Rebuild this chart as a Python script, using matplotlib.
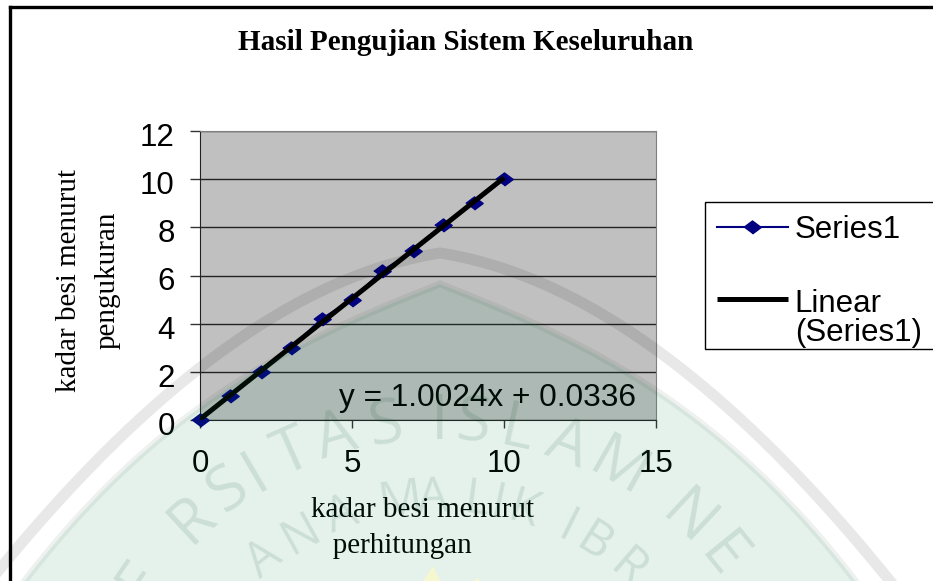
import numpy as np
import matplotlib
matplotlib.use('Agg')
import matplotlib.pyplot as plt
from matplotlib.patches import Polygon, Rectangle
from matplotlib.transforms import ScaledTranslation

W, H = 933, 581

# chart data
x_vals = [0, 1, 2, 3, 4, 5, 6, 7, 8, 9, 10]
y_vals = [0, 1, 2, 3, 4.2, 5, 6.2, 7, 8.1, 9, 10]
x_ticks = [0, 5, 10, 15]
y_ticks = [0, 2, 4, 6, 8, 10, 12]

title = 'Hasil Pengujian Sistem Keseluruhan'
xlabel = 'kadar besi menurut\n   perhitungan'
ylabel = 'kadar besi menurut\npengukuran'
equation = 'y = 1.0024x + 0.0336'

# watermark outlines, half width from centre against pixel height
outer_u = [0, 90, 160, 240, 280, 347, 437, 470]
outer_y = [253, 273, 312, 370, 402, 457, 565, 605]
inner_u = [0, 90, 223, 280, 313, 413, 440]
inner_y = [284, 318, 400, 437, 462, 580, 612]

# watermark letters: letter, degrees from the dome centre
row1 = ['E', 'R', 'S', 'I', 'T', 'A', 'S', 'I', 'S', 'L', 'A', 'M', 'N', 'E']
row1_deg = [-55.6, -43, -35.6, -30.5, -24, -16.6, -8.5, 0, 5.3, 12.3, 20.6, 29.5, 43, 51]
row2 = ['A', 'L', 'A', 'N', 'A', 'M', 'A', 'L', 'I', 'K', 'I', 'B', 'R']
row2_deg = [-64, -48, -38, -29, -20, -8, -1.4, 7.4, 11.7, 16.9, 26.4, 32.4, 40.9]

plt.rcParams['font.family'] = ['Liberation Sans', 'DejaVu Sans']

fig = plt.figure(figsize=(W / 100, H / 100), dpi=100, facecolor='white')
ax = fig.add_axes([200 / W, 1 - 420 / H, 456 / W, 289 / H])
ax.set_facecolor('#c0c0c0')

stretched_diamond = [(-1, 0), (0, 0.75), (1, 0), (0, -0.75)]
ax.plot(x_vals, y_vals, color='#000080', lw=1.5, marker=stretched_diamond, ms=12.5, mfc='#000080', mec='#000080',
        label='Series1', clip_on=False, zorder=3)
slope, intercept = np.polyfit(x_vals, y_vals, 1)
fit_x = np.array([x_vals[0], x_vals[-1]])
ax.plot(fit_x, slope * fit_x + intercept, color='black', lw=3.6, label='Linear\n(Series1)',
        solid_capstyle='butt', zorder=4)

ax.set_xlim(0, 15)
ax.set_ylim(0, 12)
ax.set_xticks(x_ticks)
ax.set_yticks(y_ticks)
ax.grid(axis='y', color='#222222', lw=1)
ax.set_axisbelow(True)
ax.tick_params(axis='both', labelsize=22.5, width=1, color='#333333', labelcolor='black')
ax.tick_params(axis='x', length=5.8, pad=15)
ax.tick_params(axis='y', length=7.2, pad=11)
for lab in ax.get_yticklabels():
    lab.set_transform(lab.get_transform() + ScaledTranslation(0, -2.5 / 72, fig.dpi_scale_trans))
for side in ['left', 'bottom']:
    ax.spines[side].set_color('#222222')
for side in ['top', 'right']:
    ax.spines[side].set_color('#808080')

ax.text(9.46, 0.92, equation, fontsize=22.8, ha='center', va='center')

serif = ['Liberation Serif', 'DejaVu Serif']
fig.text(466 / W, 1 - 43 / H, title, family=serif, fontsize=21, weight='bold', ha='center', va='center')
fig.text(311 / W, 1 - 528 / H, xlabel, family=serif, fontsize=21, ha='left', va='center', linespacing=1.5,
         multialignment='left')
fig.text(88 / W, 1 - 280 / H, ylabel, family=serif, fontsize=21, rotation=90, ha='center', va='center',
         linespacing=1.65, multialignment='center')

leg = fig.legend(*ax.get_legend_handles_labels(), loc='upper left', bbox_to_anchor=(717 / W, 1 - 215 / H),
                 bbox_transform=fig.transFigure, fontsize=22.5, frameon=False, borderaxespad=0, borderpad=0,
                 labelspacing=1.4, handlelength=2.27, handletextpad=0.22, labelcolor='black')
for t in leg.get_texts():
    t.set_linespacing(0.95)
# trend line key sits level with the first line of its label
trend_key = leg.legend_handles[1]
trend_key.set_ydata(np.array(trend_key.get_ydata()) + 14.4)

# overlay in pixel coordinates: outer frame and the repository watermark
over = fig.add_axes([0, 0, 1, 1], zorder=10)
over.set_xlim(0, W)
over.set_ylim(H, 0)
over.axis('off')
over.patch.set_alpha(0)

over.add_patch(Rectangle((705, 202), 300, 147, facecolor='none', edgecolor='black', lw=1))

cx, cy = 440, 785


def dome(us, ys):
    # smooth each side of the dome, the top stays pointed
    grid = np.linspace(0, max(us), 120)
    curve = np.polyval(np.polyfit(us, ys, 3), grid)
    curve += ys[0] - curve[0]
    xs = np.concatenate([cx - grid[::-1], cx + grid[1:]])
    zs = np.concatenate([curve[::-1], curve[1:]])
    return np.column_stack([xs, zs])


def letters(row, degs, radius, size):
    for ch, d in zip(row, degs):
        a = np.radians(d)
        over.text(cx + radius * np.sin(a), cy - radius * np.cos(a), ch, fontsize=size, rotation=-d,
                  rotation_mode='anchor', ha='center', va='center', family=['Open Sans', 'DejaVu Sans'],
                  color=(0.0, 0.25, 0.12), alpha=0.11, clip_on=True)


outer = dome(outer_u, outer_y)
over.plot(outer[:, 0], outer[:, 1], color='black', alpha=0.09, lw=8, solid_joinstyle='miter')
inner = dome(inner_u, inner_y)
over.add_patch(Polygon(inner, closed=True, facecolor=(0.0, 0.5, 0.3), alpha=0.10, edgecolor='none'))
over.plot(inner[:, 0], inner[:, 1], color=(0.1, 0.25, 0.15), alpha=0.07, lw=5, solid_joinstyle='miter')

letters(row1, row1_deg, 362, 45)
letters(row2, row2_deg, 286, 35)

# yellow tips of the emblem at the bottom
over.add_patch(Polygon([(433, 566), (417, 590), (445, 590)], closed=True, facecolor='#f4f7cf', edgecolor='none'))
over.add_patch(Polygon([(477, 577), (468, 590), (486, 590)], closed=True, facecolor='#f4f7cf', edgecolor='none'))

over.plot([9.5, 9.5], [H, 7], color='black', lw=2.4, solid_capstyle='projecting')
over.plot([9.5, W], [7, 7], color='black', lw=2.4, solid_capstyle='projecting')

fig.savefig('out.png', dpi=100)
